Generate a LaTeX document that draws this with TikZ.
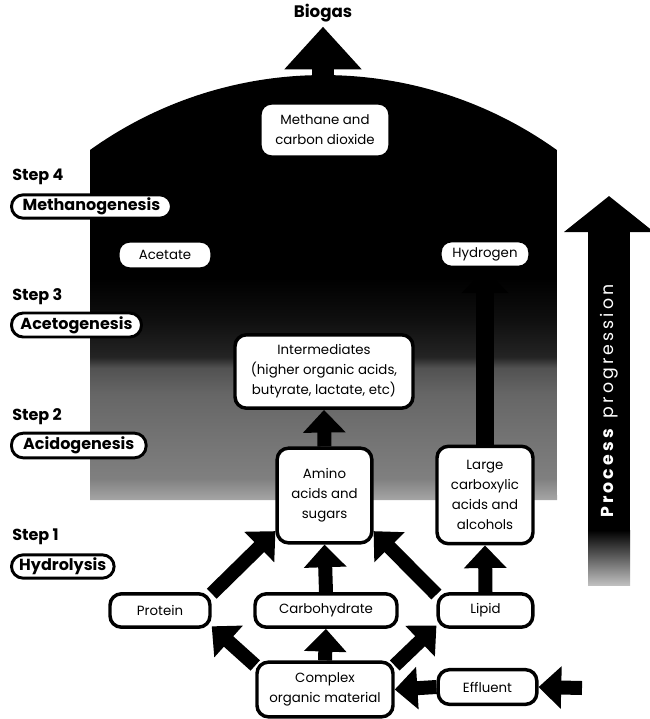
\documentclass[tikz,border=0pt]{standalone}
\usepackage{fontspec}
\setmainfont{Poppins}
\usetikzlibrary{arrows.meta,positioning}
\pgfdeclareverticalshading{tankfade}{100bp}{color(0bp)=(black!35); color(25bp)=(black!35); color(27.4bp)=(black!50); color(36.8bp)=(black!60); color(39.7bp)=(black!68); color(40.9bp)=(black!86); color(45bp)=(black!94); color(49.7bp)=(black); color(100bp)=(black)}
\newcommand{\stepfont}{\fontsize{12}{14}\selectfont\bfseries}
\newcommand{\boxfont}{\fontsize{10}{15}\selectfont}

\begin{document}
\begin{tikzpicture}[x=0.75pt,y=-0.75pt,
  box/.style={draw,line width=2.6pt,fill=white,rounded corners=8.5pt,align=center,font=\boxfont,inner sep=0pt},
  pill/.style={draw,line width=2.2pt,fill=white,rounded corners=8.8pt,font=\stepfont,inner sep=0pt,anchor=west},
  steptext/.style={font=\stepfont,anchor=west,inner sep=0pt},
  flow/.style={line width=10.5pt,-{Triangle[width=31pt,length=17pt]}}]
\useasboundingbox (0,0) rectangle (650,719);
\shade[shading=tankfade] (90,500) -- (90,150) arc[start angle=234.4,end angle=305.6,radius=401] -- (557,500) -- cycle;
\coordinate (dometop) at (323,95);
\coordinate (inflow) at (582,688);
\coordinate (procbase) at (609,531);
\coordinate (proctip) at (609,196);

\node[font=\fontsize{12.5}{14}\selectfont\bfseries] (biogas) at (323,13) {Biogas};

\node[steptext] (step4) at (12,177) {Step 4};
\node[pill,minimum width=120pt,minimum height=17.5pt] (methano) at (10,206.5) {Methanogenesis};
\node[steptext] (step3) at (12,297) {Step 3};
\node[pill,minimum width=97.5pt,minimum height=18pt] (aceto) at (10,325) {Acetogenesis};
\node[steptext] (step2) at (12,417) {Step 2};
\node[pill,minimum width=101pt,minimum height=18.5pt] (acido) at (10,445.5) {Acidogenesis};
\node[steptext] (step1) at (12,537) {Step 1};
\node[pill,minimum width=77pt,minimum height=17.5pt] (hydro) at (10,566.5) {Hydrolysis};

\node[box,minimum width=97.5pt,minimum height=40.5pt] (methane) at (325,130) {Methane and\\carbon dioxide};
\node[box,minimum width=70.5pt,minimum height=21pt] (acetate) at (165,255) {Acetate};
\node[box,minimum width=67.5pt,minimum height=20pt] (hydrogen) at (485,254) {Hydrogen};
\node[box,minimum width=133.5pt,minimum height=55pt] (inter) at (324,371.5) {Intermediates\\(higher organic acids,\\butyrate, lactate, etc)};
\node[box,minimum width=71pt,minimum height=71pt] (amino) at (324.5,495.5) {Amino\\acids and\\sugars};
\node[box,minimum width=72pt,minimum height=73pt] (large) at (485,495) {Large\\carboxylic\\acids and\\alcohols};
\node[box,minimum width=75pt,minimum height=25pt] (protein) at (160,610.5) {Protein};
\node[box,minimum width=106.5pt,minimum height=25pt] (carbo) at (326,610.5) {Carbohydrate};
\node[box,minimum width=71pt,minimum height=25pt] (lipid) at (485.5,610.5) {Lipid};
\node[box,minimum width=102pt,minimum height=41pt] (complex) at (325,689.5) {Complex\\organic material};
\node[box,minimum width=74pt,minimum height=26pt] (effluent) at (487.5,687) {Effluent};

\draw[line width=17pt,-{Triangle[width=56pt,length=32pt]}] (dometop) -- (biogas.south);
\draw[line width=31.5pt,-{Triangle[width=66pt,length=27pt]}] (procbase) -- (proctip);
\shade[top color=black,bottom color=black!25] (588,530) rectangle (630,585);
\node[rotate=90,text=white,font=\fontsize{13}{15}\selectfont\addfontfeature{LetterSpace=18}] (proclabel) at (609,401) {\textbf{Process} progression};

\draw[flow] (inflow) -- (effluent.east);
\draw[flow] (effluent.west) -- (complex.east);
\draw[flow] (complex.north) -- (carbo.south);
\draw[flow] (complex.161) -- (protein.-17);
\draw[flow] (complex.19) -- (lipid.-163);
\draw[flow] (carbo.north) -- (amino.south);
\draw[flow] (protein.18) -- (amino.-144);
\draw[flow] (lipid.162) -- (amino.-36);
\draw[flow] (lipid.north) -- (large.south);
\draw[flow] (amino.north) -- (inter.south);
\draw[line width=14pt,-{Triangle[width=34pt,length=18pt]}] (large.north) -- (hydrogen.south);
\end{tikzpicture}
\end{document}
